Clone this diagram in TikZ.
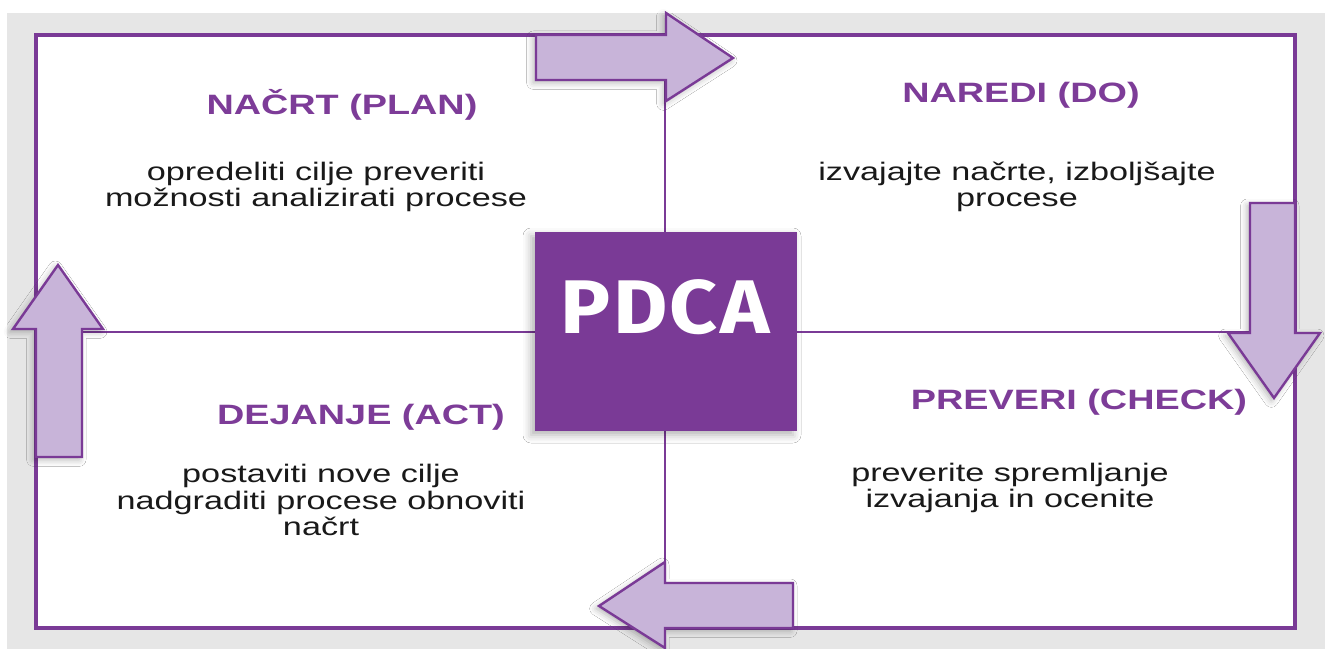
\documentclass[tikz,border=0pt]{standalone}
\usepackage{fontspec}
\setmainfont{Liberation Sans}[FakeStretch=1.35]
\newfontfamily\pdcafont{Fira Sans}[FakeStretch=1.1,LetterSpace=3]
\usetikzlibrary{shadows.blur}

\definecolor{pdcapurple}{RGB}{122,58,150}
\definecolor{headpurple}{RGB}{125,60,152}
\definecolor{arrowfill}{RGB}{200,180,217}
\definecolor{bggray}{RGB}{230,230,230}
\definecolor{bodyblack}{RGB}{25,25,25}

\begin{document}
\begin{tikzpicture}[x=0.75pt,y=0.75pt,yscale=-1,xscale=1,
  heading/.style={text=headpurple,font=\fontsize{21}{24}\selectfont\bfseries,inner sep=0pt},
  bodytext/.style={text=bodyblack,font=\fontsize{19}{20}\selectfont,align=center,inner sep=0pt},
  bigarrow/.style={draw=pdcapurple,fill=arrowfill,line width=1.8pt,line join=miter,
    blur shadow={shadow xshift=-2pt,shadow yshift=-2pt,shadow blur radius=5pt,shadow opacity=30}}]
\useasboundingbox (0,0) rectangle (1325,649);

%Shape: Rectangle (background)
\fill [bggray] (7,13) rectangle (1325,649);

%Shape: Rectangle (frame)
\draw [color=pdcapurple,fill=white,line width=2.6pt] (36,35) rectangle (1295,628);

%Straight Lines (quadrants)
\draw [color=pdcapurple,line width=2pt] (665,35) -- (665,628);
\draw [color=pdcapurple,line width=2pt] (36,332) -- (1295,332);

%Shape: Rectangle (centre)
\node (pdca) [fill=pdcapurple,minimum width=196.5pt,minimum height=149.25pt,inner sep=0pt,
  blur shadow={shadow xshift=-3pt,shadow yshift=-3pt,shadow blur radius=6pt,shadow opacity=30}]
  at (666,331.5) {};
\node (pdcalabel) [text=white,font=\pdcafont\fontsize{57}{60}\selectfont\bfseries,inner sep=0pt]
  at (665,307) {PDCA};

%Shape: Right Arrow (plan -> do)
\draw [bigarrow] (536,35) -- (666,35) -- (666,13) -- (733,58) -- (666,101) -- (666,80) -- (536,80) -- cycle;
%Shape: Down Arrow (do -> check)
\draw [bigarrow] (1250,203) -- (1295,203) -- (1295,333) -- (1320,333) -- (1274,398) -- (1228,333) -- (1250,333) -- cycle;
%Shape: Left Arrow (check -> act)
\draw [bigarrow] (793,583) -- (665,583) -- (665,562) -- (599,606) -- (665,648) -- (665,628) -- (793,628) -- cycle;
%Shape: Up Arrow (act -> plan)
\draw [bigarrow] (36,457) -- (36,329) -- (13,329) -- (58,265) -- (103,329) -- (82,329) -- (82,457) -- cycle;

% Plan
\node (plan) [heading] at (342,105) {NAČRT (PLAN)};
\node (plantext) [bodytext] at (316,187) {opredeliti cilje preveriti\\možnosti analizirati procese};
% Do
\node (do) [heading] at (1021,95) {NAREDI (DO)};
\node (dotext) [bodytext] at (1017,187) {izvajajte načrte, izboljšajte\\procese};
% Act
\node (act) [heading] at (361,417) {DEJANJE (ACT)};
\node (acttext) [bodytext] at (321,500) {postaviti nove cilje\\nadgraditi procese obnoviti\\načrt};
% Check
\node (check) [heading] at (1079,402) {PREVERI (CHECK)};
\node (checktext) [bodytext] at (1010,488) {preverite spremljanje\\izvajanja in ocenite};

\end{tikzpicture}
\end{document}
